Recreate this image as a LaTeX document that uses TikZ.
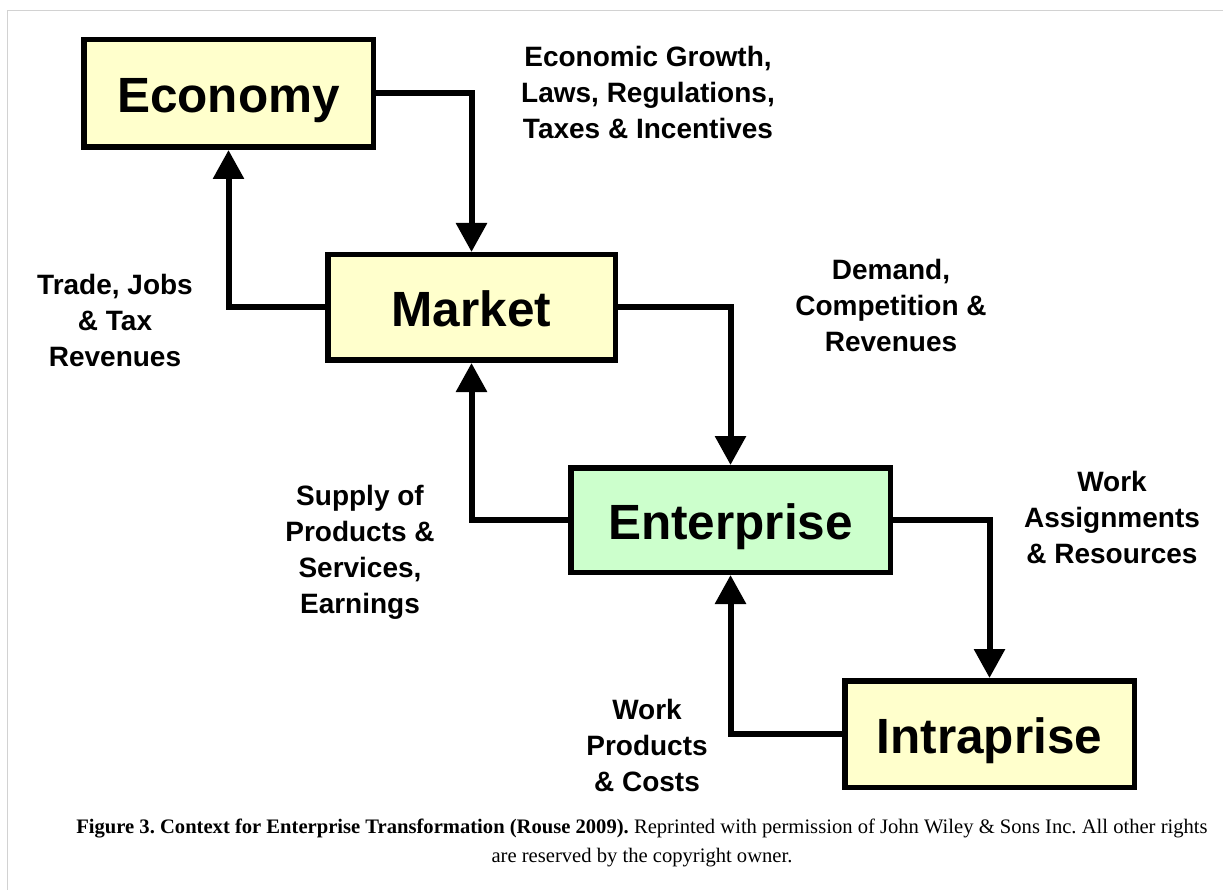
\documentclass[tikz,border=0pt]{standalone}
\usepackage{fontspec}
\setmainfont{Liberation Serif}
\newfontfamily\lsans{Liberation Sans}
\usetikzlibrary{arrows.meta}
\definecolor{boxyellow}{RGB}{255,255,204}
\definecolor{boxgreen}{RGB}{204,255,204}
\definecolor{framegray}{RGB}{210,210,210}
\frenchspacing
\begin{document}
\begin{tikzpicture}[x=1pt,y=-1pt,
  box/.style={draw=black, line width=5.5pt, inner sep=0pt, text height=38pt, text depth=0pt,
    font=\lsans\bfseries\fontsize{49.5}{55}\selectfont},
  ybox/.style={box, fill=boxyellow},
  gbox/.style={box, fill=boxgreen},
  flow/.style={line width=6pt, -{Triangle[length=29pt,width=30pt]}},
  lbl/.style={align=center, inner sep=0pt, font=\lsans\bfseries\fontsize{28}{36}\selectfont},
  captxt/.style={anchor=base, inner sep=0pt, font=\fontsize{20.6}{29}\selectfont},
]
\useasboundingbox (0,0) rectangle (1223,890);
\fill[white] (0,0) rectangle (1223,890);
\draw[framegray, line width=1.5pt] (7.5,890) -- (7.5,10.5) -- (1223,10.5);

\node[ybox, minimum width=289.5pt, minimum height=107.5pt] (eco) at (228.5,93.5) {Economy};
\node[ybox, minimum width=287.5pt, minimum height=105.5pt] (mkt) at (471.5,307.5) {Market};
\node[gbox, minimum width=319.5pt, minimum height=104.5pt] (ent) at (730.5,520) {Enterprise};
\node[ybox, minimum width=289.5pt, minimum height=106.5pt] (intra) at (989.5,734) {Intraprise};

\draw[flow] (eco.east) -| (mkt.north);
\draw[flow] (mkt.west) -| (eco.south);
\draw[flow] (mkt.east) -| (ent.north);
\draw[flow] (ent.west) -| (mkt.south);
\draw[flow] (ent.east) -| (intra.north);
\draw[flow] (intra.west) -| (ent.south);

\node[lbl] (l1) at (648,92) {Economic Growth,\\Laws, Regulations,\\Taxes \& Incentives};
\node[lbl] (l2) at (115,320) {Trade, Jobs\\\& Tax\\Revenues};
\node[lbl] (l3) at (891,305) {Demand,\\Competition \&\\Revenues};
\node[lbl] (l4) at (360,552) {Supply of\\Products \&\\Services,\\Earnings};
\node[lbl] (l5) at (1112,517) {Work\\Assignments\\\& Resources};
\node[lbl] (l6) at (647,745) {Work\\Products\\\& Costs};

\node[captxt] (cap1) at (642,833) {\textbf{Figure 3. Context for Enterprise Transformation (Rouse 2009).} Reprinted with permission of John Wiley \& Sons Inc. All other rights};
\node[captxt] (cap2) at (642,862) {are reserved by the copyright owner.};
\end{tikzpicture}
\end{document}
